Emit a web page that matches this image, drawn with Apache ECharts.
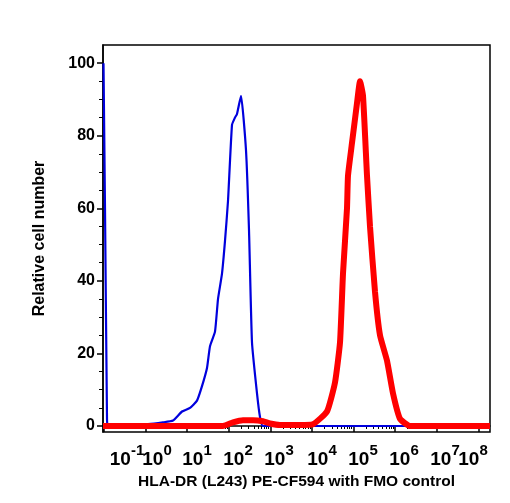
<!DOCTYPE html>
<html><head><meta charset="utf-8">
<script src="https://cdn.jsdelivr.net/npm/echarts@6/dist/echarts.min.js"></script>
<style>html,body{margin:0;padding:0;background:#fff}#c{width:510px;height:503px}</style>
</head><body><div id="c"></div>
<script>
// x values are display channels (0 = left edge of the plot area, decades ~41.6 apart)
const blueX = [0.5,2,4,5,45,60,70,79,87,94,99,104,107,112,115,119,122,125,129,132,134,138,143,146,149,154,157,160,200,387];
const blueY = [100,60,2,0,0.5,1,1.5,4,5,7,11,16,22,26,35,42,51,62,83,85,86,91,76,54,23,9,2.5,0,0,0];
const redX = [0,120,130,140,150,160,167,177,197,210,224,232,237,240,244,245,249,254,257,260,264,267,272,277,284,290,297,307,387];
const redY = [0,0,1,1.6,1.6,1.3,0.7,0.3,0.3,0.5,4,12,23,42,60,69,78,89,95,91,69,55,37,25,18,9,2,0,0];
const majorTicks = [1,42.6,84.2,125.8,167.4,209,250.6,292.2,333.8,375.4];
const decadeLabels = ['-1','0','1','2','3','4','5','6','7','8'];
const labelPos = [24,54,94,135,176,219,260,301,342,370];
const yTicks = [0,20,40,60,80,100];

const minorTicks = [];
for (let d = 0; d < majorTicks.length - 1; d++) {
  for (let k = 2; k <= 9; k++) minorTicks.push(majorTicks[d] + Math.log10(k) * 41.6);
}
const yMinor = [];
for (let v = 0; v <= 100; v += 5) if (v % 20) yMinor.push(v);

const font = '"Liberation Sans", Arial, sans-serif';
const blk = '#000';
const rich = {b:{fontFamily:font,fontWeight:'bold',fontSize:19,color:blk,padding:[9,0,0,0]},
              s:{fontFamily:font,fontWeight:'bold',fontSize:15,color:blk,padding:[0,0,9,0]}};
const fmt = function(v){const i=labelPos.indexOf(v);return '{b|10}{s|'+decadeLabels[i]+'}';};
function xAxisBase(show) {
  return {type:'value', min:0, max:387, position:'bottom',
    axisLine:{show:show, lineStyle:{color:blk,width:1.5}}, splitLine:{show:false}};
}
const chart = echarts.init(document.getElementById('c'));
chart.setOption({
  animation:false,
  grid:{left:103,right:20,top:45,bottom:71,show:true,borderColor:blk,borderWidth:1.5},
  xAxis:[
    Object.assign(xAxisBase(true),{
      axisTick:{show:true,inside:false,length:6,lineStyle:{color:blk,width:1.5},customValues:majorTicks},
      axisLabel:{show:true,customValues:labelPos.filter((v,i)=>i%2===0),margin:9,hideOverlap:false,
        formatter:fmt,rich:rich},
      name:'HLA-DR (L243) PE-CF594 with FMO control', nameLocation:'middle', nameGap:40,
      nameTextStyle:{fontFamily:font,fontWeight:'bold',fontSize:15.5,color:blk}
    }),
    Object.assign(xAxisBase(false),{
      axisTick:{show:true,length:3,lineStyle:{color:blk,width:1},customValues:minorTicks},
      axisLabel:{show:true,customValues:labelPos.filter((v,i)=>i%2===1),margin:9,hideOverlap:false,
        formatter:fmt,rich:rich}
    })
  ],
  yAxis:[
    {type:'value',min:-1.65,max:105,
      axisLine:{show:true,lineStyle:{color:blk,width:1.5}},splitLine:{show:false},
      axisTick:{show:true,length:6,lineStyle:{color:blk,width:1.5},customValues:yTicks},
      axisLabel:{customValues:yTicks,fontFamily:font,fontWeight:'bold',fontSize:16,color:blk,margin:8},
      name:'Relative cell number',nameLocation:'middle',nameGap:55,
      nameTextStyle:{fontFamily:font,fontWeight:'bold',fontSize:16,color:blk}},
    {type:'value',min:-1.65,max:105,position:'left',
      axisLine:{show:false},splitLine:{show:false},
      axisTick:{show:true,length:4,lineStyle:{color:blk,width:1},customValues:yMinor},
      axisLabel:{show:false}}
  ],
  series:[
    {type:'line',data:blueX.map((x,i)=>[x,blueY[i]]),showSymbol:false,smooth:0.15,
      lineStyle:{color:'#0000dd',width:2.2},z:3},
    {type:'line',data:redX.map((x,i)=>[x,redY[i]]),showSymbol:false,smooth:0.15,
      lineStyle:{color:'#ff0000',width:6},z:4}
  ]
});
</script></body></html>
